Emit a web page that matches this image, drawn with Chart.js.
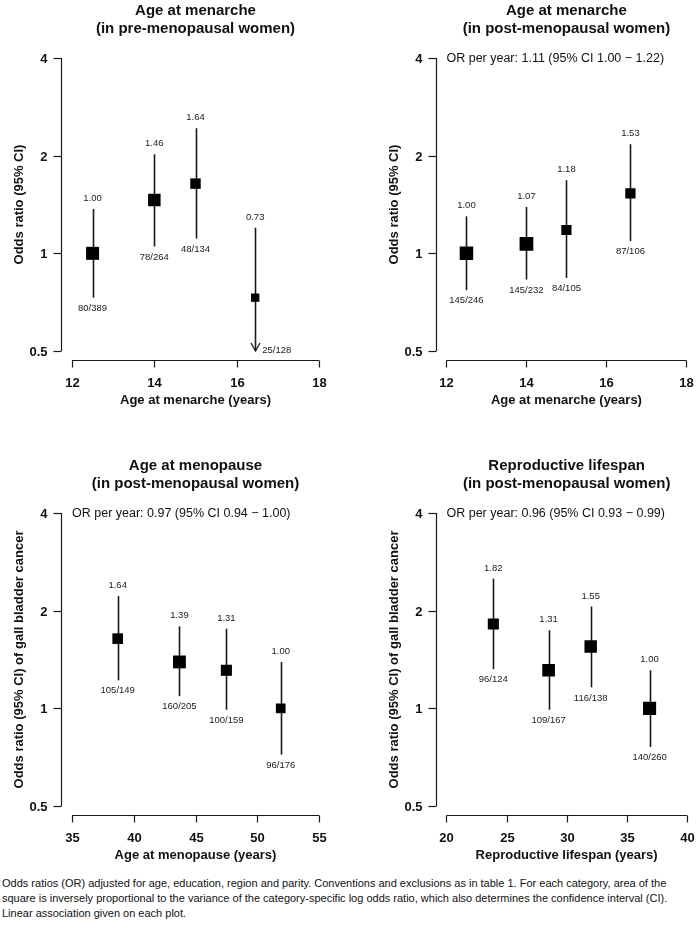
<!DOCTYPE html>
<html><head><meta charset="utf-8">
<script src="https://cdn.jsdelivr.net/npm/chart.js@4.4.1/dist/chart.umd.min.js"></script>
<style>
html,body{margin:0;padding:0;background:#fff;width:700px;height:931px;overflow:hidden;position:relative}
.pane{position:absolute}
#caption{position:absolute;left:2px;top:876px;font:11px "Liberation Sans",Arial,Helvetica,sans-serif;line-height:15px;color:#111;white-space:nowrap}
</style></head><body>
<div class="pane" style="left:0;top:0"><canvas id="c1" width="350" height="455"></canvas></div>
<div class="pane" style="left:350px;top:0"><canvas id="c2" width="350" height="455"></canvas></div>
<div class="pane" style="left:0;top:455px"><canvas id="c3" width="350" height="420"></canvas></div>
<div class="pane" style="left:350px;top:455px"><canvas id="c4" width="350" height="420"></canvas></div>
<div id="caption">Odds ratios (OR) adjusted for age, education, region and parity. Conventions and exclusions as in table 1. For each category, area of the<br>square is inversely proportional to the variance of the category-specific log odds ratio, which also determines the confidence interval (CI).<br>Linear association given on each plot.</div>
<script>
// ---------- DATA ----------
const yTicks = [0.5, 1, 2, 4];
const yTickLabels = ['0.5', '1', '2', '4'];

// Panel A: age at menarche, pre-menopausal
const menarchePreX = [12.5, 14, 15, 16.45];
const menarchePreOR = [1.00, 1.46, 1.64, 0.73];
const menarchePreLo = [0.73, 1.05, 1.11, 0.45];
const menarchePreHi = [1.37, 2.02, 2.43, 1.20];
const menarchePreCounts = ['80/389', '78/264', '48/134', '25/128'];
const menarcheTicks = [12, 14, 16, 18];

// Panel B: age at menarche, post-menopausal
const menarchePostX = [12.5, 14, 15, 16.6];
const menarchePostOR = [1.00, 1.07, 1.18, 1.53];
const menarchePostLo = [0.77, 0.83, 0.84, 1.09];
const menarchePostHi = [1.30, 1.39, 1.68, 2.17];
const menarchePostCounts = ['145/246', '145/232', '84/105', '87/106'];
const menarchePostTrend = [1.11, 1.00, 1.22];

// Panel C: age at menopause
const menopauseX = [38.7, 43.7, 47.5, 51.9];
const menopauseOR = [1.64, 1.39, 1.31, 1.00];
const menopauseLo = [1.22, 1.09, 0.99, 0.72];
const menopauseHi = [2.22, 1.79, 1.76, 1.39];
const menopauseCounts = ['105/149', '160/205', '100/159', '96/176'];
const menopauseTicks = [35, 40, 45, 50, 55];
const menopauseTrend = [0.97, 0.94, 1.00];

// Panel D: reproductive lifespan
const lifespanX = [23.9, 28.5, 32.0, 36.9];
const lifespanOR = [1.82, 1.31, 1.55, 1.00];
const lifespanLo = [1.32, 0.99, 1.16, 0.76];
const lifespanHi = [2.51, 1.74, 2.06, 1.31];
const lifespanCounts = ['96/124', '109/167', '116/138', '140/260'];
const lifespanTicks = [20, 25, 30, 35, 40];
const lifespanTrend = [0.96, 0.93, 0.99];

// ---------- LAYOUT / STYLE ----------
const FONT = '"Liberation Sans", Arial, Helvetica, sans-serif';
const trendText = t => t ? 'OR per year: ' + t[0].toFixed(2) + ' (95% CI ' + t[1].toFixed(2) + ' \u2212 ' + t[2].toFixed(2) + ')' : null;

const panels = [
  {id:'c1', title:['Age at menarche','(in pre-menopausal women)'], xTitle:'Age at menarche (years)', yTitle:'Odds ratio (95% CI)',
   x:menarchePreX, or:menarchePreOR, lo:menarchePreLo, hi:menarchePreHi, counts:menarchePreCounts, xTicks:menarcheTicks, trend:null,
   area:{left:62,right:329,top:49,bottom:360}, xPix:[72,319], yPix:[58,351], k:11.8},
  {id:'c2', title:['Age at menarche','(in post-menopausal women)'], xTitle:'Age at menarche (years)', yTitle:'Odds ratio (95% CI)',
   x:menarchePostX, or:menarchePostOR, lo:menarchePostLo, hi:menarchePostHi, counts:menarchePostCounts, xTicks:menarcheTicks, trend:menarchePostTrend,
   area:{left:87,right:347,top:49,bottom:360}, xPix:[96.7,343], yPix:[58,351], k:10.2},
  {id:'c3', title:['Age at menopause','(in post-menopausal women)'], xTitle:'Age at menopause (years)', yTitle:'Odds ratio (95% CI) of gall bladder cancer',
   x:menopauseX, or:menopauseOR, lo:menopauseLo, hi:menopauseHi, counts:menopauseCounts, xTicks:menopauseTicks, trend:menopauseTrend,
   area:{left:62,right:329,top:49,bottom:360}, xPix:[72,319], yPix:[58,351], k:9.2},
  {id:'c4', title:['Reproductive lifespan','(in post-menopausal women)'], xTitle:'Reproductive lifespan (years)', yTitle:'Odds ratio (95% CI) of gall bladder cancer',
   x:lifespanX, or:lifespanOR, lo:lifespanLo, hi:lifespanHi, counts:lifespanCounts, xTicks:lifespanTicks, trend:lifespanTrend,
   area:{left:87,right:347,top:49,bottom:360}, xPix:[96.7,343], yPix:[58,351], k:10.3}
];

function rPlot(p) {
  return {
    id: 'rplot',
    beforeDatasetsDraw(chart) {
      const ctx = chart.ctx, xs = chart.scales.x, ys = chart.scales.y;
      ctx.save();
      ctx.strokeStyle = '#1a1a1a'; ctx.lineWidth = 1.6; ctx.lineCap = 'butt';
      p.x.forEach((xv, i) => {
        const px = Math.round(xs.getPixelForValue(xv)) + 0.5;
        const truncated = p.lo[i] < yTicks[0];
        const top = ys.getPixelForValue(p.hi[i]);
        const bot = ys.getPixelForValue(truncated ? yTicks[0] : p.lo[i]);
        ctx.beginPath(); ctx.moveTo(px, top); ctx.lineTo(px, bot); ctx.stroke();
        if (truncated) {
          ctx.lineWidth = 1.3;
          ctx.beginPath(); ctx.moveTo(px - 4.5, bot - 8); ctx.lineTo(px, bot); ctx.lineTo(px + 4.5, bot - 8); ctx.stroke();
          ctx.lineWidth = 1.6;
        }
      });
      ctx.restore();
    },
    afterDraw(chart) {
      const ctx = chart.ctx, xs = chart.scales.x, ys = chart.scales.y, a = chart.chartArea;
      ctx.save();
      // value + count labels
      ctx.fillStyle = '#1a1a1a'; ctx.font = '9.5px ' + FONT; ctx.textBaseline = 'middle';
      p.x.forEach((xv, i) => {
        const px = xs.getPixelForValue(xv);
        const truncated = p.lo[i] < yTicks[0];
        const top = ys.getPixelForValue(p.hi[i]);
        const bot = ys.getPixelForValue(truncated ? yTicks[0] : p.lo[i]);
        ctx.textAlign = 'center';
        ctx.fillText(p.or[i].toFixed(2), px, top - 10.5);
        if (truncated) { ctx.textAlign = 'left'; ctx.fillText(p.counts[i], px + 7, bot - 1); }
        else ctx.fillText(p.counts[i], px, bot + 10.5);
      });
      // axes
      ctx.strokeStyle = '#1a1a1a'; ctx.fillStyle = '#111'; ctx.lineWidth = 1.2;
      const yl = Math.round(a.left) - 0.5;
      const y0 = ys.getPixelForValue(yTicks[0]), y1 = ys.getPixelForValue(yTicks[yTicks.length - 1]);
      ctx.beginPath(); ctx.moveTo(yl, y0); ctx.lineTo(yl, y1); ctx.stroke();
      ctx.font = 'bold 13px ' + FONT; ctx.textAlign = 'right'; ctx.textBaseline = 'middle';
      yTicks.forEach((v, i) => {
        const py = Math.round(ys.getPixelForValue(v)) + 0.5;
        ctx.beginPath(); ctx.moveTo(yl, py); ctx.lineTo(yl - 8, py); ctx.stroke();
        ctx.fillText(yTickLabels[i], yl - 14, py + 1);
      });
      const xb = Math.round(a.bottom) + 0.5;
      const t = p.xTicks;
      const x0 = xs.getPixelForValue(t[0]), x1 = xs.getPixelForValue(t[t.length - 1]);
      ctx.beginPath(); ctx.moveTo(x0, xb); ctx.lineTo(x1, xb); ctx.stroke();
      ctx.textAlign = 'center';
      t.forEach(v => {
        const px = Math.round(xs.getPixelForValue(v)) + 0.5;
        ctx.beginPath(); ctx.moveTo(px, xb); ctx.lineTo(px, xb + 7); ctx.stroke();
        ctx.fillText(String(v), px, xb + 23);
      });
      ctx.fillText(p.xTitle, (x0 + x1) / 2, xb + 40);
      // y title
      ctx.save(); ctx.translate(yl - 42, (y0 + y1) / 2); ctx.rotate(-Math.PI / 2);
      ctx.fillText(p.yTitle, 0, 0); ctx.restore();
      // title
      ctx.font = 'bold 15px ' + FONT;
      ctx.fillText(p.title[0], (x0 + x1) / 2, y1 - 47.5);
      ctx.fillText(p.title[1], (x0 + x1) / 2, y1 - 29);
      // trend
      const tt = trendText(p.trend);
      if (tt) { ctx.font = '12.5px ' + FONT; ctx.textAlign = 'left'; ctx.fillText(tt, x0, y1 + 1); }
      ctx.restore();
    }
  };
}

panels.forEach(p => {
  const el = document.getElementById(p.id);
  const W = el.width, H = el.height;
  const xt = p.xTicks, ar = p.area;
  const xppx = (xt[xt.length - 1] - xt[0]) / (p.xPix[1] - p.xPix[0]);
  const xmin = xt[0] - (p.xPix[0] - ar.left) * xppx;
  const xmax = xt[xt.length - 1] + (ar.right - p.xPix[1]) * xppx;
  const ypp = Math.log2(yTicks[yTicks.length - 1] / yTicks[0]) / (p.yPix[1] - p.yPix[0]);
  const ymax = yTicks[yTicks.length - 1] * Math.pow(2, (p.yPix[0] - ar.top) * ypp);
  const ymin = yTicks[0] / Math.pow(2, (ar.bottom - p.yPix[1]) * ypp);
  const sides = p.lo.map((lo, i) => p.k / Math.log2(p.hi[i] / lo));
  new Chart(el, {
    type: 'scatter',
    data: { datasets: [{
      data: p.x.map((xv, i) => ({ x: xv, y: p.or[i] })),
      pointStyle: 'rect',
      pointRadius: sides.map(s => s / Math.SQRT2),
      pointHoverRadius: sides.map(s => s / Math.SQRT2),
      backgroundColor: '#000', borderColor: '#000', borderWidth: 0
    }]},
    options: {
      responsive: false, animation: false, events: [],
      layout: { padding: { left: ar.left, right: W - ar.right, top: ar.top, bottom: H - ar.bottom } },
      scales: {
        x: { type: 'linear', display: false, min: xmin, max: xmax, bounds: 'data' },
        y: { type: 'logarithmic', display: false, min: ymin, max: ymax, bounds: 'data' }
      },
      plugins: { legend: { display: false }, tooltip: { enabled: false }, title: { display: false } }
    },
    plugins: [rPlot(p)]
  });
});
</script>
</body></html>
